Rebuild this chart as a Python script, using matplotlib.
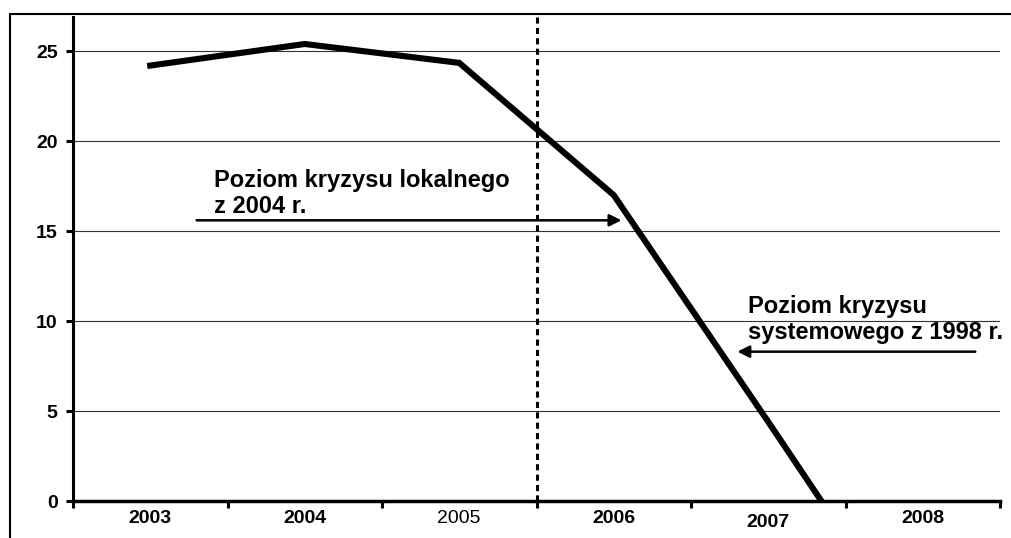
import matplotlib
matplotlib.use('Agg')
import matplotlib.pyplot as plt
from matplotlib.patches import Rectangle
import numpy as np

years = ['2003', '2004', '2005', '2006', '2007', '2008']
values = [24.2, 25.4, 24.35, 17.0, 4.4, -8.4]
yticks = [0, 5, 10, 15, 20, 25]
local_level = 15.6      # poziom kryzysu lokalnego z 2004 r.
system_level = 8.3      # poziom kryzysu systemowego z 1998 r.

plt.rcParams['font.family'] = ['Liberation Sans', 'DejaVu Sans']

fig = plt.figure(figsize=(10.11, 5.38), dpi=100)
# outer frame (only top/left visible in the original crop)
fig.patches.append(Rectangle((10/1011, -0.1), 1.2, (538-14)/538 + 0.1,
                             transform=fig.transFigure, fill=False,
                             edgecolor='black', linewidth=1.5))
ax = fig.add_axes([73/1011, 37/538, 927/1011, 484/538])

x = np.arange(len(years))
ax.plot(x, values, color='black', linewidth=4.4, solid_joinstyle='miter', clip_on=True)
ax.set_xlim(-0.5, len(years) - 0.5)
ax.set_ylim(0, 26.9)

for t in yticks[1:]:
    ax.axhline(t, color='#333333', linewidth=0.8, zorder=0)
ax.axvline(2.5, ymin=0, ymax=1.007, color='black', linewidth=2.2,
           linestyle=(0, (2.0, 1.4)), clip_on=False)

ax.spines['top'].set_visible(False)
ax.spines['right'].set_visible(False)
ax.spines['left'].set_linewidth(2.2)
ax.spines['bottom'].set_linewidth(2.5)

ax.set_yticks(yticks)
ax.set_yticklabels([str(t) for t in yticks], fontsize=14, fontweight='bold')
ax.tick_params(axis='y', length=5, width=2.2, pad=6)

ax.set_xticks(np.arange(-0.5, len(years)), minor=False)
ax.set_xticklabels([])
ax.tick_params(axis='x', length=5, width=2.2, direction='out')
for i, lab in enumerate(years):
    w = 'normal' if lab == '2005' else 'bold'
    dy = -0.026 if lab == '2007' else -0.019
    ax.text(i, dy, lab, transform=ax.get_xaxis_transform(), ha='center', va='top',
            fontsize=14, fontweight=w)

ax.annotate('', xy=(3.05, local_level), xytext=(0.3, local_level),
            arrowprops=dict(arrowstyle='-|>', color='black', lw=1.8,
                            mutation_scale=18, shrinkA=0, shrinkB=0))
ax.text(0.41, 17.1, 'Poziom kryzysu lokalnego\nz 2004 r.', fontsize=17,
        fontweight='bold', va='center', ha='left', linespacing=1.15)

ax.annotate('', xy=(3.8, system_level), xytext=(5.34, system_level),
            arrowprops=dict(arrowstyle='-|>', color='black', lw=1.8,
                            mutation_scale=18, shrinkA=0, shrinkB=0),
            annotation_clip=False)
ax.text(3.87, 10.1, 'Poziom kryzysu\nsystemowego z 1998 r.', fontsize=17,
        fontweight='bold', va='center', ha='left', linespacing=1.15)

fig.savefig('out.png', dpi=100)
